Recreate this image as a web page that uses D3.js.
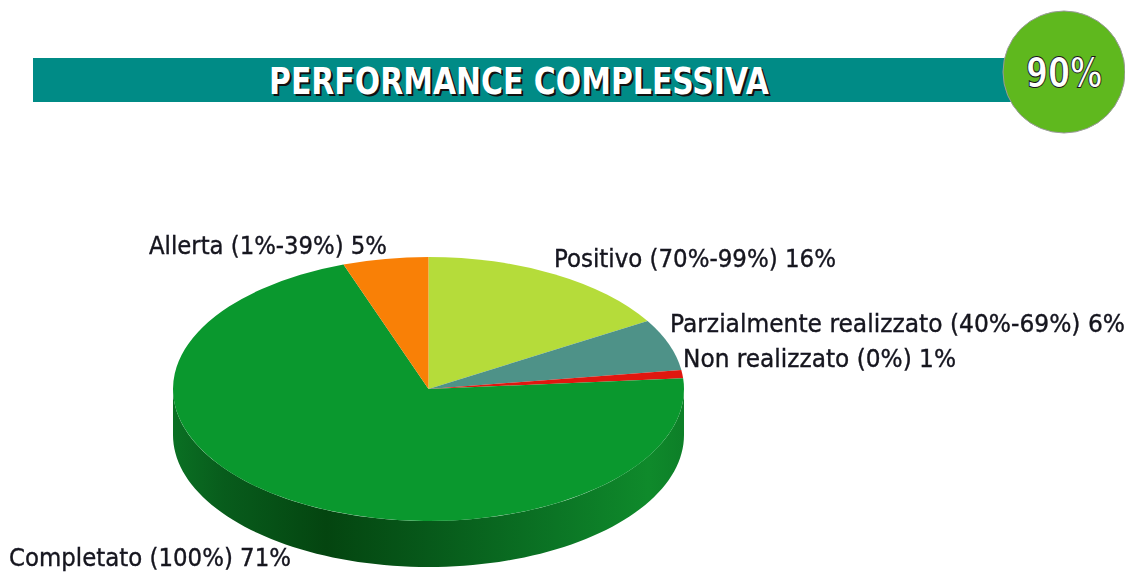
<!DOCTYPE html>
<html>
<head>
<meta charset="utf-8">
<script src="https://cdn.jsdelivr.net/npm/d3@7"></script>
<style>
html, body { margin: 0; padding: 0; background: #FFFFFF; }
svg { display: block; }
</style>
</head>
<body>
<div id="vis_container"></div>
<script>
var categories = ["Positivo (70%-99%)", "Parzialmente realizzato (40%-69%)", "Non realizzato (0%)", "Completato (100%)", "Allerta (1%-39%)"];
// the printed labels are these rounded
var shares = [16.4, 6.3, 1.0, 70.9, 5.4];
var sliceColors = ["#B5DC3A", "#4E9288", "#E0170F", "#0A982E", "#F98006"];
var chartTitle = "PERFORMANCE COMPLESSIVA";
var overallScore = "90%";

var width = 1125, height = 573;
var font = "'DejaVu Sans', sans-serif";

var pie = {cx: 428.5, cy: 389, rx: 255.5, ry: 132, depth: 46};

var labelPos = [
	{x: 554, y: 267, len: 282},
	{x: 670, y: 332, len: 455},
	{x: 683, y: 367, len: 273},
	{x: 9, y: 566, len: 282},
	{x: 149, y: 254, len: 238}
];

var svg = d3.select("#vis_container").append("svg")
	.attr("width", width)
	.attr("height", height);

var defs = svg.append("defs");

var wallGrad = defs.append("linearGradient")
	.attr("id", "wall")
	.attr("gradientUnits", "userSpaceOnUse")
	.attr("x1", pie.cx - pie.rx).attr("x2", pie.cx + pie.rx)
	.attr("y1", 0).attr("y2", 0);
[[0, "#0A7023"], [0.1, "#085C1C"], [0.3, "#044510"], [0.5, "#07591A"], [0.75, "#0B7525"], [0.93, "#0F8A2B"], [1, "#0D7F28"]].forEach(function(s) {
	wallGrad.append("stop").attr("offset", s[0]).attr("stop-color", s[1]);
});

defs.append("filter").attr("id", "soft")
	.append("feGaussianBlur").attr("stdDeviation", 0.5);

// header bar and score badge
svg.append("rect")
	.attr("x", 33).attr("y", 58)
	.attr("width", 985).attr("height", 44)
	.attr("fill", "#008B86");

svg.append("circle")
	.attr("cx", 1064).attr("cy", 72).attr("r", 61)
	.attr("fill", "#5FB81E")
	.attr("stroke", "#9A9A9A")
	.attr("stroke-width", 1);

var titleStyle = function(sel) {
	return sel.attr("x", 519).attr("y", 94)
		.attr("text-anchor", "middle")
		.attr("font-family", font)
		.attr("font-stretch", "condensed")
		.attr("font-weight", "bold")
		.attr("font-size", 37)
		.attr("textLength", 500)
		.attr("lengthAdjust", "spacingAndGlyphs")
		.text(chartTitle);
};
svg.append("text").call(titleStyle).attr("fill", "#111111").attr("transform", "translate(2,2)");
svg.append("text").call(titleStyle).attr("fill", "#FFFFFF");

svg.append("text")
	.attr("x", 1064).attr("y", 87)
	.attr("text-anchor", "middle")
	.attr("font-family", font)
	.attr("font-stretch", "condensed")
	.attr("font-size", 40)
	.attr("font-weight", "bold")
	.attr("fill", "#FFFFFF")
	.attr("stroke", "#1A1A1A")
	.attr("stroke-width", 1)
	.attr("textLength", 76)
	.attr("lengthAdjust", "spacingAndGlyphs")
	.text(overallScore);

// side wall of the disc, lower half of the ellipse
var lower = d3.range(0, 181, 2).map(function(d) {
	var a = d * Math.PI / 180;
	return [pie.cx + pie.rx * Math.cos(a), pie.cy + pie.ry * Math.sin(a)];
});
var wallPath = lower.concat(lower.slice().reverse().map(function(p) {
	return [p[0], p[1] + pie.depth];
}));
svg.append("path")
	.attr("d", d3.line()(wallPath) + "Z")
	.attr("fill", "url(#wall)");

// top of the disc: a normal pie squashed into an ellipse
var arcs = d3.pie().sort(null).value(function(d) { return d; })(shares);
var arc = d3.arc().innerRadius(0).outerRadius(pie.rx);

svg.append("g")
	.attr("transform", "translate(" + pie.cx + "," + pie.cy + ") scale(1," + (pie.ry / pie.rx) + ")")
	.selectAll("path")
	.data(arcs)
	.enter().append("path")
	.attr("d", arc)
	.attr("fill", function(d, i) { return sliceColors[i]; });

svg.append("g")
	.attr("filter", "url(#soft)")
	.selectAll("text")
	.data(categories)
	.enter().append("text")
	.attr("x", function(d, i) { return labelPos[i].x; })
	.attr("y", function(d, i) { return labelPos[i].y; })
	.attr("font-family", font)
	.attr("font-stretch", "condensed")
	.attr("font-size", 25)
	.attr("fill", "#14141E")
	.attr("stroke", "#14141E")
	.attr("stroke-width", 0.35)
	.attr("textLength", function(d, i) { return labelPos[i].len; })
	.attr("lengthAdjust", "spacingAndGlyphs")
	.text(function(d, i) { return d + " " + Math.round(shares[i]) + "%"; });
</script>
</body>
</html>
